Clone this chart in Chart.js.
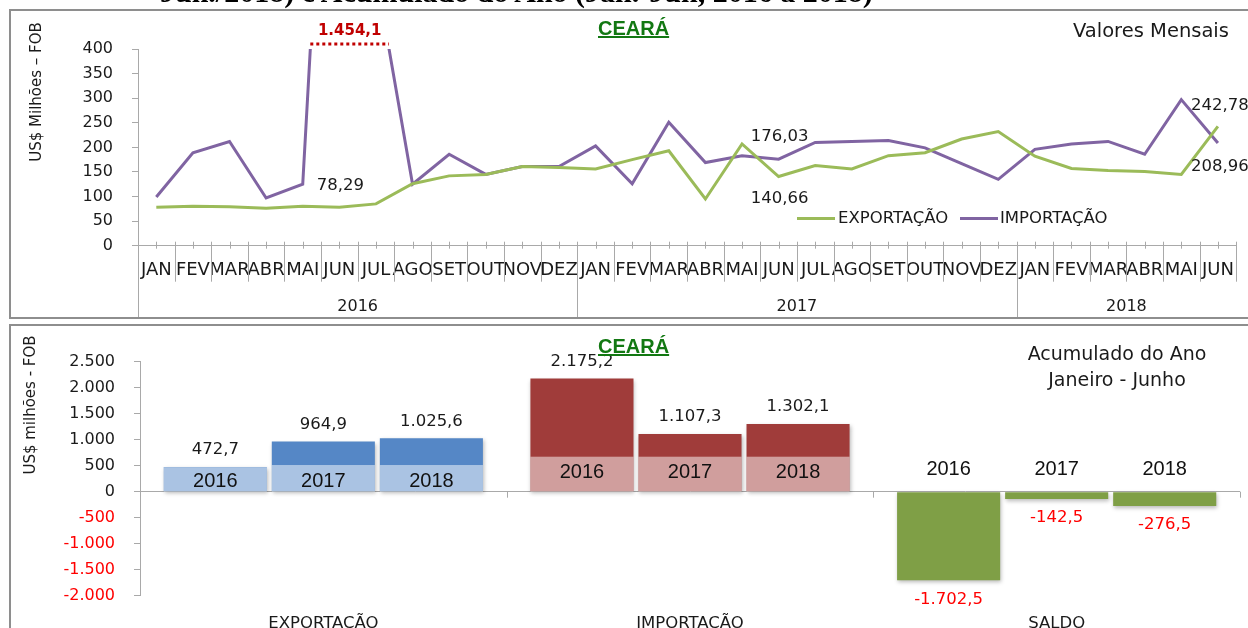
<!DOCTYPE html>
<html><head><meta charset="utf-8">
<script src="https://cdn.jsdelivr.net/npm/chart.js"></script>
<style>
html,body{margin:0;padding:0;width:1248px;height:628px;overflow:hidden;background:#fff;font-family:"DejaVu Sans",sans-serif;color:#1a1a1a;}
.abs{position:absolute;white-space:nowrap;z-index:3;}
canvas{position:absolute;left:0;z-index:2;}
.frame{position:absolute;border:2px solid #8e8e8e;z-index:1;}
.ceara{font:bold 20px "Liberation Sans",Arial,sans-serif;line-height:20px;color:#127812;text-decoration:underline;}
.rot{transform:translate(-50%,-50%) rotate(-90deg);font-size:15px;line-height:18px;}
</style></head>
<body>
<div class="abs" style="left:160px;top:-23.5px;font:bold 30px 'Liberation Serif',serif;line-height:30px;color:#000;">Jun./2018) e Acumulado do Ano (Jan.-Jun, 2016 a 2018)</div>
<div class="frame" style="left:9px;top:9px;width:1300px;height:306px;"></div>
<div class="frame" style="left:9px;top:324px;width:1300px;height:400px;"></div>

<canvas id="c1" width="1248" height="320" style="top:0"></canvas>
<canvas id="c2" width="1248" height="320" style="top:320px"></canvas>

<div class="abs ceara" style="left:598px;top:18px;">CEARÁ</div>
<div class="abs" style="left:1073px;top:21px;font-size:19.5px;line-height:19.5px;">Valores Mensais</div>
<div class="abs rot" style="left:36px;top:92px;">US$ Milhões – FOB</div>

<div class="abs" style="left:797px;top:216.5px;width:38px;height:3px;background:#9bbb59;"></div>
<div class="abs" style="left:838px;top:208px;font-size:16.5px;line-height:20px;">EXPORTAÇÃO</div>
<div class="abs" style="left:960px;top:216.5px;width:38px;height:3px;background:#8064a2;"></div>
<div class="abs" style="left:1000px;top:208px;font-size:16.5px;line-height:20px;">IMPORTAÇÃO</div>

<div class="abs ceara" style="left:598px;top:336px;">CEARÁ</div>
<div class="abs" style="left:1017px;width:200px;text-align:center;top:340px;font-size:19px;line-height:26px;">Acumulado do Ano<br>Janeiro - Junho</div>
<div class="abs rot" style="left:30px;top:405px;">US$ milhões - FOB</div>

<script>
// ---------- DATA ----------
const months = ['JAN','FEV','MAR','ABR','MAI','JUN','JUL','AGO','SET','OUT','NOV','DEZ',
                'JAN','FEV','MAR','ABR','MAI','JUN','JUL','AGO','SET','OUT','NOV','DEZ',
                'JAN','FEV','MAR','ABR','MAI','JUN'];
const years = ['2016','2017','2018'];
const monthsPerYear = [12,12,6];
const exportacao = [78,80,79,76,80,78.29,85,126,142,145,161,159,
                    156,175,193,95,207,140.66,163,156,183,189,217,232,
                    182,157,153,151,145,242.78];
const importacao = [99,189,212,97,125,1454.1,553,125,186,145,161,161,
                    203,126,251,169,183,176.03,210,212,214,199,167,135,
                    196,207,212,186,297,208.96];
const yTicksTop = {min:0, max:400, step:50};

const acumCategorias = ['EXPORTAÇÃO','IMPORTAÇÃO','SALDO'];
const acumAnos = ['2016','2017','2018'];
const acumExportacao = [472.7, 964.9, 1025.6];
const acumImportacao = [2175.2, 1107.3, 1302.1];
const acumSaldo = [-1702.5, -142.5, -276.5];
const yTicksBottom = {min:-2000, max:2500, step:500};

// ---------- STYLE ----------
const AXIS = '#a9a9a9';
const GREEN = '#9bbb59', PURPLE = '#8064a2';
const BAR_COLORS = ['#5587c6', '#a03c3a', '#7f9f46'];
Chart.defaults.font.family = "'DejaVu Sans', sans-serif";
Chart.defaults.color = '#1a1a1a';

function fmtBR(v, dec){
  const s = Math.abs(v).toFixed(dec);
  let [i, f] = s.split('.');
  i = i.replace(/\B(?=(\d{3})+(?!\d))/g, '.');
  return (v < 0 ? '-' : '') + i + (f ? ',' + f : '');
}

// ---------- TOP CHART ----------
const topLabels = [
  {ds:0, i:5,  dx:1, dy:-21},
  {ds:1, i:17, dx:1, dy:-22},
  {ds:0, i:17, dx:1, dy:22},
  {ds:0, i:29, dx:2, dy:-21},
  {ds:1, i:29, dx:2, dy:24}
];
const topDecor = {
  id:'topDecor',
  afterDraw(chart){
    const {ctx, chartArea:ca, scales:{x, y}} = chart;
    const y0 = y.getPixelForValue(0);
    const panelBottom = 317;
    ctx.save();
    ctx.strokeStyle = AXIS; ctx.lineWidth = 1;
    const line = (x1,y1,x2,y2)=>{ctx.beginPath();ctx.moveTo(x1,y1);ctx.lineTo(x2,y2);ctx.stroke();};
    const n = months.length;
    for (let i=0;i<n;i++){ const px = Math.round(x.getPixelForValue(i))+0.5; line(px,y0-4,px,y0+3); }
    const yearStarts = [0]; let c=0; monthsPerYear.forEach(m=>{c+=m; yearStarts.push(c);});
    const bounds = [];
    for (let i=0;i<=n;i++){
      bounds.push(i===0 ? ca.left : i===n ? ca.right : (x.getPixelForValue(i-1)+x.getPixelForValue(i))/2);
    }
    for (let i=0;i<=n;i++){
      const px = Math.round(bounds[i])+0.5;
      const full = (i<n && yearStarts.includes(i));
      line(px, y0-4, px, full ? panelBottom : y0+36);
    }
    ctx.fillStyle = '#1a1a1a';
    ctx.font = "16px 'DejaVu Sans'";
    ctx.textAlign='center'; ctx.textBaseline='middle';
    for (let k=0;k<years.length;k++){
      const cx = (bounds[yearStarts[k]] + bounds[yearStarts[k+1]])/2;
      ctx.fillText(years[k], cx, 307);
    }
    // clipped peak marker
    const imp = importacao, ymax = yTicksTop.max;
    const cross = [];
    for (let i=0;i<n-1;i++){
      const a = imp[i], b = imp[i+1];
      if ((a<ymax) !== (b<ymax)){
        const xa = x.getPixelForValue(i), xb = x.getPixelForValue(i+1);
        cross.push(xa + (xb-xa)*(ymax-a)/(b-a));
      }
    }
    if (cross.length>=2){
      const yl = y.getPixelForValue(ymax)-5;
      ctx.strokeStyle = '#c00000'; ctx.lineWidth = 3; ctx.setLineDash([3,3]);
      line(cross[0], yl, cross[1], yl);
      ctx.setLineDash([]);
      const peak = Math.max(...imp);
      ctx.fillStyle = '#c00000';
      ctx.font = "bold 15px 'DejaVu Sans'";
      ctx.fillText(fmtBR(peak,1), (cross[0]+cross[1])/2, 31);
    }
    // data labels
    ctx.fillStyle = '#1a1a1a';
    ctx.font = "16.5px 'DejaVu Sans'";
    topLabels.forEach(l=>{
      const el = chart.getDatasetMeta(l.ds).data[l.i];
      const v = chart.data.datasets[l.ds].data[l.i];
      ctx.fillText(fmtBR(v,2), el.x+l.dx, el.y+l.dy);
    });
    ctx.restore();
  }
};

new Chart(document.getElementById('c1'), {
  type:'line',
  data:{
    labels: months,
    datasets:[
      {label:'EXPORTAÇÃO', data:exportacao, borderColor:GREEN, backgroundColor:GREEN, borderWidth:3, pointRadius:0, tension:0},
      {label:'IMPORTAÇÃO', data:importacao, borderColor:PURPLE, backgroundColor:PURPLE, borderWidth:3, pointRadius:0, tension:0}
    ]
  },
  options:{
    responsive:false, animation:false, devicePixelRatio:1,
    layout:{padding:{top:49, right:7.5, left:0, bottom:0}},
    plugins:{legend:{display:false}, tooltip:{enabled:false}},
    scales:{
      x:{
        offset:true,
        ticks:{autoSkip:false, maxRotation:0, minRotation:0, font:{size:18}, color:'#1a1a1a', padding:14},
        grid:{display:false, drawTicks:false, offset:true},
        border:{display:true, color:AXIS},
        afterFit(s){ s.height = 74.3; }
      },
      y:{
        min:yTicksTop.min, max:yTicksTop.max,
        ticks:{stepSize:yTicksTop.step, font:{size:16}, color:'#1a1a1a', padding:19},
        grid:{display:true, drawOnChartArea:false, drawTicks:true, tickLength:6, color:AXIS},
        border:{display:true, color:AXIS},
        afterFit(s){ s.width = 138; }
      }
    }
  },
  plugins:[topDecor]
});

// ---------- BOTTOM CHART ----------
const acumPorAno = acumAnos.map((_,k)=>[acumExportacao[k], acumImportacao[k], acumSaldo[k]]);
const boxTop = [513, 673, null];
const yearLabelDy = [-10, -19, -22];
const accDecor = {
  id:'accDecor',
  beforeDatasetsDraw(chart){
    const ctx = chart.ctx;
    ctx.save();
    ctx.shadowColor = 'rgba(0,0,0,0.28)'; ctx.shadowBlur = 4; ctx.shadowOffsetX = 1; ctx.shadowOffsetY = 2;
  },
  afterDatasetsDraw(chart){
    const {ctx, scales:{x, y}} = chart;
    ctx.restore();
    ctx.save();
    const y0 = y.getPixelForValue(0);
    ctx.strokeStyle = AXIS; ctx.lineWidth = 1;
    const nCat = acumCategorias.length;
    for (let i=1;i<=nCat;i++){
      const px = Math.round(i===nCat ? chart.chartArea.right : (x.getPixelForValue(i-1)+x.getPixelForValue(i))/2)+0.5;
      ctx.beginPath(); ctx.moveTo(px,y0); ctx.lineTo(px,y0+6); ctx.stroke();
    }
    chart.data.datasets.forEach((ds,d)=>{
      const meta = chart.getDatasetMeta(d);
      meta.data.forEach((el,g)=>{
        const w = el.width;
        if (boxTop[g] !== null){
          const t = Math.max(el.y, y.getPixelForValue(boxTop[g]));
          ctx.fillStyle = 'rgba(255,255,255,0.5)';
          ctx.fillRect(el.x - w/2, t, w, y0 - t);
        }
      });
    });
    ctx.textAlign='center'; ctx.textBaseline='middle';
    chart.data.datasets.forEach((ds,d)=>{
      const meta = chart.getDatasetMeta(d);
      meta.data.forEach((el,g)=>{
        ctx.fillStyle = '#111';
        ctx.font = "20px 'Liberation Sans', Arial, sans-serif";
        ctx.fillText(ds.label, el.x, y0 + yearLabelDy[g]);
        const v = ds.data[g];
        ctx.font = "16.5px 'DejaVu Sans'";
        if (v >= 0){ ctx.fillStyle = '#1a1a1a'; ctx.fillText(fmtBR(v,1), el.x, el.y - 17); }
        else { ctx.fillStyle = '#ff0000'; ctx.fillText(fmtBR(v,1), el.x, el.y + 19); }
      });
    });
    ctx.restore();
  }
};

new Chart(document.getElementById('c2'), {
  type:'bar',
  data:{
    labels: acumCategorias,
    datasets: acumAnos.map((a,k)=>({
      label:a, data:acumPorAno[k], backgroundColor:BAR_COLORS, borderWidth:0,
      categoryPercentage:0.884, barPercentage:0.954
    }))
  },
  options:{
    responsive:false, animation:false, devicePixelRatio:1,
    layout:{padding:{top:41.7, right:8, left:0, bottom:0}},
    plugins:{legend:{display:false}, tooltip:{enabled:false}},
    scales:{
      x:{
        ticks:{font:{size:16.5}, color:'#1a1a1a', padding:18, maxRotation:0},
        grid:{display:false, drawTicks:false},
        border:{display:false},
        afterFit(s){ s.height = 44.3; }
      },
      y:{
        min:yTicksBottom.min, max:yTicksBottom.max,
        ticks:{stepSize:yTicksBottom.step, font:{size:16}, padding:19,
               color:c=>c.tick && c.tick.value<0 ? '#ff0000' : '#1a1a1a',
               callback:v=>fmtBR(v,0)},
        grid:{display:true, drawOnChartArea:true, drawTicks:true, tickLength:6,
              color:c=>c.tick && c.tick.value===0 ? AXIS : 'rgba(0,0,0,0)', tickColor:AXIS},
        border:{display:true, color:AXIS},
        afterFit(s){ s.width = 140; }
      }
    }
  },
  plugins:[accDecor]
});
</script>
</body></html>
